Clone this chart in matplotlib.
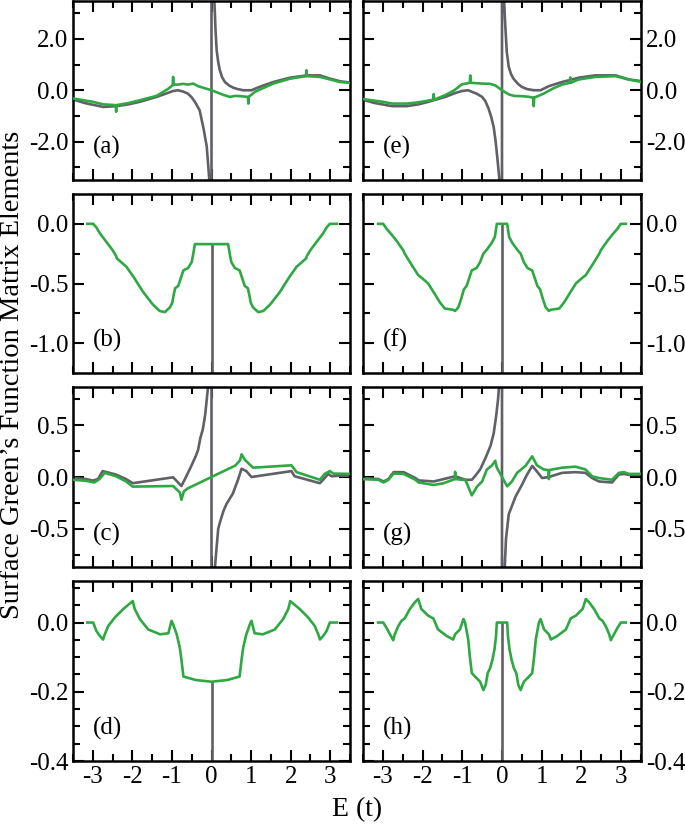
import matplotlib
matplotlib.use("Agg")
import matplotlib.pyplot as plt
from matplotlib.ticker import FixedLocator, FixedFormatter

plt.rcParams['font.family'] = ['Liberation Serif', 'DejaVu Serif']
plt.rcParams['axes.unicode_minus'] = False

GRAY = '#606066'
GREEN = '#2ea843'

# ---------------- data ----------------
# (a)
a_gray_x = [-3.5, -3.2, -2.74, -2.4, -2.1, -1.81, -1.39, -1.15, -0.97, -0.85, -0.72, -0.6, -0.51, -0.42, -0.3,
            -0.2, -0.12, -0.06, 0.0, 0.0, 0.07, 0.1, 0.13, 0.17, 0.21, 0.27, 0.34, 0.45, 0.55, 0.65, 0.8, 1.01,
            1.1, 1.3, 1.56, 1.98, 2.41, 2.74, 3.0, 3.25, 3.5]
a_gray_y = [-0.36, -0.5, -0.65, -0.62, -0.55, -0.45, -0.26, -0.13, -0.03, 0.0, -0.05, -0.13, -0.26, -0.45, -0.78,
            -1.5, -2.2, -3.4, -40.0, 40.0, 3.6, 2.4, 1.56, 1.1, 0.78, 0.5, 0.32, 0.18, 0.10, 0.05, 0.0, 0.0,
            0.06, 0.18, 0.32, 0.49, 0.58, 0.58, 0.45, 0.35, 0.30]
a_green_x = [-3.5, -3.0, -2.74, -2.42, -2.41, -2.40, -2.1, -1.81, -1.39, -1.1, -0.98, -0.97, -0.96, -0.85, -0.72,
             -0.6, -0.46, -0.34, 0.0, 0.3, 0.46, 0.6, 0.72, 0.92, 0.93, 0.94, 1.1, 1.3, 1.56, 1.98, 2.39, 2.40,
             2.41, 2.74, 3.0, 3.25, 3.5]
a_green_y = [-0.32, -0.45, -0.55, -0.58, -0.84, -0.58, -0.5, -0.39, -0.22, 0.05, 0.2, 0.52, 0.22, 0.22, 0.25,
             0.22, 0.26, 0.16, 0.0, -0.18, -0.26, -0.22, -0.23, -0.26, -0.52, -0.26, -0.06, 0.08, 0.26, 0.45, 0.55,
             0.78, 0.55, 0.52, 0.42, 0.32, 0.29]

# (e)
e_gray_x = [-3.53, -3.2, -2.77, -2.4, -2.1, -1.85, -1.43, -1.2, -1.01, -0.85, -0.76, -0.63, -0.5, -0.42, -0.34,
            -0.27, -0.21, -0.16, -0.12, -0.07, 0.0, 0.0, 0.05, 0.08, 0.12, 0.17, 0.23, 0.29, 0.4, 0.5, 0.62, 0.8,
            0.97, 1.18, 1.51, 1.93, 2.35, 2.86, 3.19, 3.53]
e_gray_y = [-0.36, -0.5, -0.62, -0.62, -0.55, -0.45, -0.26, -0.12, -0.03, 0.0, -0.06, -0.14, -0.26, -0.42, -0.71,
            -1.05, -1.43, -2.0, -2.6, -3.4, -40.0, 40.0, 3.6, 2.6, 1.5, 0.91, 0.62, 0.45, 0.25, 0.13, 0.05, 0.0,
            0.0, 0.16, 0.32, 0.49, 0.58, 0.58, 0.42, 0.35]
e_green_x = [-3.53, -3.0, -2.77, -2.4, -2.1, -1.73, -1.72, -1.71, -1.43, -1.2, -1.01, -0.81, -0.80, -0.79, -0.6,
             -0.5, -0.3, -0.17, 0.0, 0.17, 0.3, 0.5, 0.65, 0.79, 0.80, 0.81, 1.05, 1.3, 1.51, 1.71, 1.72, 1.73,
             1.93, 2.35, 2.86, 3.19, 3.53]
e_green_y = [-0.34, -0.45, -0.52, -0.52, -0.47, -0.37, -0.15, -0.37, -0.19, 0.0, 0.23, 0.29, 0.58, 0.29, 0.27,
             0.26, 0.25, 0.19, 0.0, -0.16, -0.22, -0.23, -0.25, -0.29, -0.62, -0.29, -0.13, 0.08, 0.22, 0.29, 0.5,
             0.29, 0.42, 0.52, 0.55, 0.42, 0.32]

# (b)
b_green_x = [-3.14, -2.99, -2.91, -2.82, -2.66, -2.5, -2.41, -2.39, -2.15, -1.98, -1.94, -1.73, -1.52, -1.47,
             -1.31, -1.18, -1.05, -0.99, -0.97, -0.92, -0.84, -0.76, -0.71, -0.59, -0.5, -0.46, -0.42,
             0.42, 0.46, 0.5, 0.59, 0.71, 0.76, 0.84, 0.92, 0.97, 0.99, 1.05, 1.18, 1.31, 1.47, 1.52, 1.73,
             1.94, 1.98, 2.15, 2.39, 2.41, 2.5, 2.66, 2.82, 2.91, 2.99, 3.17]
b_green_y = [0.0, 0.0, -0.03, -0.08, -0.15, -0.22, -0.27, -0.29, -0.36, -0.44, -0.46, -0.57, -0.66, -0.68,
             -0.73, -0.74, -0.70, -0.66, -0.62, -0.54, -0.52, -0.44, -0.39, -0.37, -0.32, -0.25, -0.17,
             -0.17, -0.25, -0.32, -0.37, -0.39, -0.44, -0.52, -0.54, -0.62, -0.66, -0.70, -0.74, -0.73, -0.68,
             -0.66, -0.57, -0.46, -0.44, -0.36, -0.29, -0.27, -0.22, -0.15, -0.08, -0.03, 0.0, 0.0]
b_gray_x = [0.0, 0.0]
b_gray_y = [-0.17, -1.3]

# (f)
f_green_x = [-3.12, -2.99, -2.91, -2.78, -2.66, -2.49, -2.45, -2.32, -2.11, -2.03, -1.86, -1.69, -1.56, -1.44,
             -1.23, -1.18, -1.1, -1.02, -0.96, -0.89, -0.81, -0.76, -0.64, -0.55, -0.47, -0.39, -0.26, -0.18,
             -0.13, 0.13, 0.18, 0.26, 0.39, 0.47, 0.55, 0.64, 0.76, 0.81, 0.89, 0.96, 1.02, 1.1, 1.18, 1.23,
             1.44, 1.56, 1.69, 1.86, 2.03, 2.11, 2.32, 2.45, 2.49, 2.66, 2.78, 2.91, 2.99, 3.12]
f_green_y = [0.0, 0.0, -0.04, -0.09, -0.14, -0.22, -0.25, -0.32, -0.43, -0.45, -0.50, -0.59, -0.66, -0.71,
             -0.72, -0.73, -0.70, -0.62, -0.55, -0.52, -0.44, -0.39, -0.37, -0.32, -0.25, -0.22, -0.16, -0.11,
             0.0, 0.0, -0.11, -0.16, -0.22, -0.25, -0.32, -0.37, -0.39, -0.44, -0.52, -0.55, -0.62, -0.70,
             -0.73, -0.72, -0.71, -0.66, -0.59, -0.50, -0.45, -0.43, -0.32, -0.25, -0.22, -0.14, -0.09, -0.04,
             0.0, 0.0]
f_gray_x = [0.0, 0.0]
f_gray_y = [0.0, -1.3]

# (c)
c_gray_x = [-3.5, -3.17, -3.0, -2.87, -2.75, -2.41, -2.16, -1.99, -0.97, -0.76, -0.68, -0.51, -0.4, -0.34, -0.28,
            -0.22, -0.16, -0.12, -0.08, -0.05, 0.0, 0.0, 0.07, 0.12, 0.17, 0.22, 0.3, 0.38, 0.54, 0.67, 0.76,
            0.88, 1.01, 2.02, 2.1, 2.74, 2.82, 2.95, 3.03, 3.24, 3.5]
c_gray_y = [-0.01, -0.02, -0.035, -0.02, 0.057, 0.023, -0.02, -0.06, -0.003, -0.087, -0.027, 0.107, 0.2, 0.26,
            0.38, 0.46, 0.6, 0.75, 0.9, 1.0, 20.0, -20.0, -0.95, -0.72, -0.5, -0.43, -0.33, -0.26, -0.16, -0.027,
            0.08, 0.057, 0.0, 0.057, 0.007, -0.06, -0.027, 0.03, 0.007, 0.013, 0.013]
c_green_x = [-3.5, -3.17, -2.96, -2.83, -2.7, -2.41, -2.16, -1.99, -0.97, -0.8, -0.76, -0.7, -0.6, -0.38, 0.0,
             0.38, 0.6, 0.72, 0.76, 0.84, 1.05, 2.02, 2.15, 2.74, 2.86, 2.99, 3.08, 3.5]
c_green_y = [-0.027, -0.037, -0.053, -0.02, 0.04, 0.007, -0.043, -0.093, -0.087, -0.15, -0.22, -0.14, -0.11,
             -0.07, 0.0, 0.07, 0.11, 0.16, 0.22, 0.167, 0.09, 0.113, 0.047, -0.027, 0.03, 0.057, 0.033, 0.03]

# (g)
g_gray_x = [-3.53, -3.11, -2.98, -2.86, -2.73, -2.48, -2.18, -2.1, -1.72, -1.47, -1.18, -0.92, -0.76, -0.67,
            -0.55, -0.42, -0.29, -0.21, -0.15, -0.1, -0.06, 0.0, 0.0, 0.06, 0.1, 0.17, 0.34, 0.5, 0.63, 0.76,
            0.84, 1.01, 1.18, 1.51, 1.85, 2.1, 2.27, 2.44, 2.77, 2.94, 3.07, 3.2, 3.53]
g_gray_y = [-0.01, -0.02, -0.043, -0.02, 0.047, 0.047, -0.01, -0.033, -0.043, -0.02, 0.007, -0.027, -0.027,
            0.013, 0.073, 0.18, 0.3, 0.42, 0.58, 0.75, 0.95, 20.0, -20.0, -0.95, -0.6, -0.36, -0.19, -0.077,
            0.023, 0.107, 0.073, -0.01, 0.0, 0.04, 0.047, 0.04, -0.01, -0.043, -0.053, 0.023, 0.03, 0.02, 0.02]
g_green_x = [-3.53, -3.11, -2.98, -2.86, -2.73, -2.48, -2.18, -2.1, -1.72, -1.47, -1.19, -1.18, -1.17, -0.92,
             -0.76, -0.63, -0.5, -0.38, -0.25, -0.17, -0.13, 0.0, 0.13, 0.25, 0.38, 0.59, 0.76, 0.88, 1.05,
             1.17, 1.18, 1.19, 1.51, 1.85, 2.1, 2.27, 2.44, 2.77, 2.94, 3.07, 3.2, 3.53]
g_green_y = [-0.02, -0.027, -0.053, -0.027, 0.033, 0.03, -0.027, -0.053, -0.077, -0.06, -0.02, 0.05, -0.02,
             -0.03, -0.177, -0.093, -0.043, 0.073, 0.113, 0.157, 0.09, 0.0, -0.09, -0.043, 0.04, 0.107, 0.2,
             0.113, 0.073, 0.067, -0.02, 0.067, 0.09, 0.1, 0.073, 0.007, -0.01, -0.027, 0.04, 0.047, 0.03, 0.03]

# (d)
d_green_x = [-3.14, -2.99, -2.91, -2.82, -2.74, -2.7, -2.61, -2.44, -2.23, -1.99, -1.94, -1.81, -1.6, -1.3,
             -1.09, -1.01, -0.97, -0.88, -0.8, -0.76, -0.71, -0.4, 0.0, 0.4, 0.71, 0.76, 0.8, 0.88, 0.97, 1.01,
             1.09, 1.3, 1.6, 1.81, 1.94, 1.99, 2.23, 2.44, 2.61, 2.7, 2.74, 2.82, 2.91, 2.99, 3.17]
d_green_y = [0.0, 0.0, -0.024, -0.039, -0.049, -0.035, -0.01, 0.015, 0.039, 0.062, 0.039, 0.01, -0.02, -0.034,
             -0.031, 0.005, -0.005, -0.034, -0.073, -0.107, -0.156, -0.166, -0.171, -0.166, -0.156, -0.107,
             -0.073, -0.034, -0.005, 0.005, -0.031, -0.034, -0.02, 0.01, 0.039, 0.062, 0.039, 0.015, -0.01,
             -0.035, -0.049, -0.039, -0.024, 0.0, 0.0]
d_gray_x = [0.0, 0.0]
d_gray_y = [-0.171, -0.5]

# (h)
h_green_x = [-3.12, -2.99, -2.91, -2.82, -2.74, -2.7, -2.61, -2.53, -2.45, -2.32, -2.19, -2.11, -2.03, -1.86,
             -1.73, -1.61, -1.39, -1.23, -1.18, -1.06, -0.97, -0.93, -0.85, -0.81, -0.76, -0.68, -0.55, -0.47,
             -0.41, -0.36, -0.3, -0.24, -0.19, -0.15, -0.13, 0.13, 0.15, 0.19, 0.24, 0.3, 0.36, 0.41, 0.47,
             0.55, 0.68, 0.76, 0.81, 0.85, 0.93, 0.97, 1.06, 1.18, 1.23, 1.39, 1.61, 1.73, 1.86, 2.03, 2.11,
             2.19, 2.32, 2.45, 2.53, 2.61, 2.7, 2.74, 2.82, 2.91, 2.99, 3.12]
h_green_y = [0.0, 0.0, -0.015, -0.034, -0.051, -0.034, -0.01, 0.005, 0.012, 0.039, 0.059, 0.068, 0.039, 0.02,
             0.012, -0.02, -0.039, -0.049, -0.034, -0.02, 0.01, 0.0, -0.049, -0.098, -0.146, -0.156, -0.171,
             -0.195, -0.18, -0.146, -0.132, -0.107, -0.078, -0.039, 0.0, 0.0, -0.039, -0.078, -0.107, -0.132,
             -0.146, -0.18, -0.195, -0.171, -0.156, -0.146, -0.098, -0.049, 0.0, 0.01, -0.02, -0.034, -0.049,
             -0.039, -0.02, 0.012, 0.02, 0.039, 0.068, 0.059, 0.039, 0.012, 0.005, -0.01, -0.034, -0.051,
             -0.034, -0.015, 0.0, 0.0]
h_gray_x = [0.0, 0.0]
h_gray_y = [0.0, -0.5]

# ticks / labels
x_major = [-3, -2, -1, 0, 1, 2, 3]
x_minor = [-3.5, -2.5, -1.5, -0.5, 0.5, 1.5, 2.5, 3.5]
x_labels = ['-3', '-2', '-1', '0', '1', '2', '3']

row_ylim = [(-3.5, 3.5), (-1.25, 0.25), (-0.87, 0.87), (-0.4, 0.12)]
row_major = [[-2.0, 0.0, 2.0], [-1.0, -0.5, 0.0], [-0.5, 0.0, 0.5], [-0.4, -0.2, 0.0]]
row_labels = [['-2.0', '0.0', '2.0'], ['-1.0', '-0.5', '0.0'], ['-0.5', '0.0', '0.5'], ['-0.4', '-0.2', '0.0']]
row_minor = [[-3.0, -1.0, 1.0, 3.0], [-0.75, -0.25], [-0.75, -0.25, 0.25, 0.75],
             [-0.35, -0.3, -0.25, -0.15, -0.1, -0.05, 0.05, 0.1]]

panels = [
    [(a_gray_x, a_gray_y, a_green_x, a_green_y, '(a)'),
     (b_gray_x, b_gray_y, b_green_x, b_green_y, '(b)'),
     (c_gray_x, c_gray_y, c_green_x, c_green_y, '(c)'),
     (d_gray_x, d_gray_y, d_green_x, d_green_y, '(d)')],
    [(e_gray_x, e_gray_y, e_green_x, e_green_y, '(e)'),
     (f_gray_x, f_gray_y, f_green_x, f_green_y, '(f)'),
     (g_gray_x, g_gray_y, g_green_x, g_green_y, '(g)'),
     (h_gray_x, h_gray_y, h_green_x, h_green_y, '(h)')],
]

# ---------------- layout ----------------
W, H = 685, 824
fig = plt.figure(figsize=(W / 100, H / 100), dpi=100)
col_left = [73, 363]
col_w = [277, 278]
row_top = [0.5, 194, 387, 581]
row_h = [179.5, 179, 180, 180]

FS = 18
for c in range(2):
    for r in range(4):
        gx, gy, grx, gry, lab = panels[c][r]
        rect = [col_left[c] / W, 1 - (row_top[r] + row_h[r]) / H, col_w[c] / W, row_h[r] / H]
        ax = fig.add_axes(rect)
        ax.plot(gx, gy, color=GRAY, lw=1.9, solid_joinstyle='round', zorder=2)
        ax.plot(grx, gry, color=GREEN, lw=1.9, solid_joinstyle='round', zorder=3)
        ax.set_xlim(-3.5, 3.5)
        ax.set_ylim(*row_ylim[r])
        ax.xaxis.set_major_locator(FixedLocator(x_major))
        ax.xaxis.set_minor_locator(FixedLocator(x_minor))
        ax.yaxis.set_major_locator(FixedLocator(row_major[r]))
        ax.yaxis.set_minor_locator(FixedLocator(row_minor[r]))
        ax.yaxis.set_major_formatter(FixedFormatter(row_labels[r]))
        ax.xaxis.set_major_formatter(FixedFormatter(x_labels))
        for s in ax.spines.values():
            s.set_linewidth(1.8)
        ax.tick_params(which='both', direction='in', top=True, bottom=True, left=True, right=True,
                       width=1.5, labelsize=FS, pad=3.5)
        ax.tick_params(which='major', length=8)
        ax.tick_params(which='minor', length=5)
        ax.tick_params(labelbottom=(r == 3), labelleft=(c == 0), labelright=(c == 1))
        ax.text(0.072, 0.18, lab, transform=ax.transAxes, fontsize=FS, ha='left', va='center')

fig.text(13 / W, 1 - 375 / H, 'Surface Green’s Function Matrix Elements', rotation=90,
         ha='center', va='center', fontsize=20.5)
fig.text(357 / W, 1 - 810 / H, 'E (t)', ha='center', va='center', fontsize=20)

fig.savefig('out.png', dpi=100)
